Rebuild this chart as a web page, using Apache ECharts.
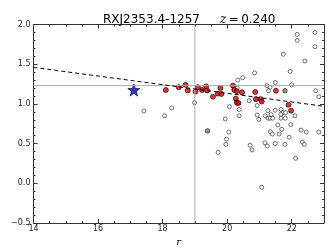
<!DOCTYPE html>
<html><head><meta charset="utf-8">
<script src="https://cdn.jsdelivr.net/npm/echarts@6/dist/echarts.min.js"></script>
<style>html,body{margin:0;padding:0;background:#fff}#c{width:332px;height:249px}</style>
</head><body><div id="c"></div>
<script>
// data
const openR  = [17.42,18.06,18.28,18.99,22.17,22.17,22.72,22.72,21.74,22.41,21.95,20.85,20.48,20.33,21.23,21.33,21.49,21.28,22.00,22.74,22.84,20.31,20.68,20.93,20.07,20.37,19.94,21.26,21.49,21.67,21.72,21.81,22.10,21.18,21.27,21.33,21.41,21.67,21.80,20.98,20.37,20.93,21.36,21.66,21.57,21.69,21.97,21.34,21.40,21.61,21.92,22.29,22.45,22.84,22.33,22.39,21.17,21.24,21.49,21.79,20.71,20.77,20.05,19.98,19.96,19.72,22.12,21.07];
const openGR = [0.91,0.85,0.95,1.015,1.876,1.80,1.90,1.72,1.625,1.54,1.41,1.39,1.33,1.30,1.23,1.21,1.27,1.166,1.24,1.166,1.09,1.20,1.04,0.98,0.965,0.93,0.81,0.915,0.92,0.93,0.89,0.89,0.85,0.85,0.82,0.82,0.82,0.82,0.82,0.805,0.85,0.86,0.865,0.87,0.735,0.68,0.74,0.65,0.62,0.62,0.58,0.67,0.645,0.645,0.52,0.49,0.51,0.47,0.50,0.49,0.48,0.42,0.645,0.555,0.49,0.39,0.315,-0.05];
const redR  = [18.10,18.50,18.71,18.78,19.02,19.09,19.22,19.35,19.38,19.56,19.71,19.82,19.79,20.18,20.22,20.30,20.46,20.27,20.30,20.35,20.87,20.89,21.04,21.07,21.51,21.90,21.98];
const redGR = [1.175,1.21,1.24,1.17,1.155,1.21,1.175,1.22,1.168,1.09,1.13,1.125,1.20,1.23,1.175,1.16,1.146,1.066,1.015,1.01,1.15,1.06,1.06,1.03,1.166,0.99,0.915];
const grayR  = [21.79,19.39];
const grayGR = [1.166,0.66];
const bcgR = [17.11], bcgGR = [1.175];
const fitR = [14,23], fitGR = [1.46,0.97];
const refR = 19, refGR = 1.23;
const xRange = [14,23], yRange = [-0.5,2.0];
const xTicks = [14,16,18,20,22];
const yTicks = [-0.5,0.0,0.5,1.0,1.5,2.0];
const titleName = 'RXJ2353.4-1257', zLabel = 'z', zValue = '0.240';

const zip = (a,b) => a.map((v,i)=>[v,b[i]]);
const chart = echarts.init(document.getElementById('c'));
const axC = '#333';
function mkX(extra){ return Object.assign({type:'value', min:xRange[0], max:xRange[1], interval:2, splitLine:{show:false},
  axisLine:{show:true,onZero:false,lineStyle:{color:axC,width:1}},
  axisTick:{show:true,inside:true,length:4,lineStyle:{color:axC}},
  minorTick:{show:true,splitNumber:4,length:2,lineStyle:{color:axC}}}, extra); }
function mkY(extra){ return Object.assign({type:'value', min:yRange[0], max:yRange[1], interval:0.5, splitLine:{show:false},
  axisLine:{show:true,onZero:false,lineStyle:{color:axC,width:1}},
  axisTick:{show:true,inside:true,length:4,lineStyle:{color:axC}},
  minorTick:{show:true,splitNumber:5,length:2,lineStyle:{color:axC}}}, extra); }
chart.setOption({
  animation:false,
  title:{text:'{a|'+titleName+'}    {b|'+zLabel+'}{c|\u2009=\u2009'+zValue+'}', left:98, top:6,
    textStyle:{fontWeight:'normal',rich:{a:{fontFamily:'DejaVu Sans',fontSize:12,fontWeight:'normal',color:'#000'},
      b:{fontFamily:'DejaVu Serif',fontStyle:'italic',fontWeight:'normal',fontSize:12,color:'#000'},
      c:{fontFamily:'DejaVu Sans',fontSize:12,fontWeight:'normal',color:'#000'}}}},
  grid:{left:33.5,right:8,top:24.5,bottom:26,outerBoundsMode:'none'},
  xAxis:[mkX({position:'bottom', name:'r', nameLocation:'middle', nameGap:14,
      nameTextStyle:{fontFamily:'DejaVu Serif',fontStyle:'italic',fontSize:10,color:'#000'},
      axisLabel:{fontFamily:'DejaVu Sans',fontSize:8,color:'#222',margin:2,
        formatter:v=>xTicks.includes(v)?String(v):''}}),
    mkX({position:'top', axisLabel:{show:false}})],
  yAxis:[mkY({position:'left', name:'g\u2212r', nameLocation:'middle', nameGap:21,
      nameTextStyle:{fontFamily:'DejaVu Serif',fontStyle:'italic',fontSize:10,color:'#000'},
      axisLabel:{fontFamily:'DejaVu Sans',fontSize:8,color:'#222',margin:3,
        formatter:v=>yTicks.some(t=>Math.abs(t-v)<1e-9)?v.toFixed(1).replace('-','\u2212'):''}}),
    mkY({position:'right', axisLabel:{show:false}})],
  series:[
    {type:'line', data:[[refR,yRange[0]],[refR,yRange[1]]], symbol:'none', silent:true,
     lineStyle:{color:'#aaa',width:1}},
    {type:'line', data:[[xRange[0],refGR],[xRange[1],refGR]], symbol:'none', silent:true,
     lineStyle:{color:'#aaa',width:1}},
    {type:'line', data:zip(fitR,fitGR), symbol:'none', silent:true,
     lineStyle:{color:'#000',width:1,type:[4,3]}},
    {type:'scatter', data:zip(openR,openGR), symbol:'circle', symbolSize:4,
     itemStyle:{color:'#fff',borderColor:'#222',borderWidth:0.8}},
    {type:'scatter', data:zip(grayR,grayGR), symbol:'circle', symbolSize:4.5,
     itemStyle:{color:'#777',borderColor:'#222',borderWidth:0.8}},
    {type:'scatter', data:zip(redR,redGR), symbol:'circle', symbolSize:5,
     itemStyle:{color:'#dd0000',borderColor:'#000',borderWidth:0.8}},
    {type:'scatter', data:zip(bcgR,bcgGR), symbol:'path://M0,-10 L2.35,-3.24 L9.51,-3.09 L3.8,1.24 L5.88,8.09 L0,4 L-5.88,8.09 L-3.8,1.24 L-9.51,-3.09 L-2.35,-3.24 Z', symbolSize:12,
     itemStyle:{color:'#0000cc',borderColor:'#000',borderWidth:0.8}}
  ]
});
</script></body></html>
